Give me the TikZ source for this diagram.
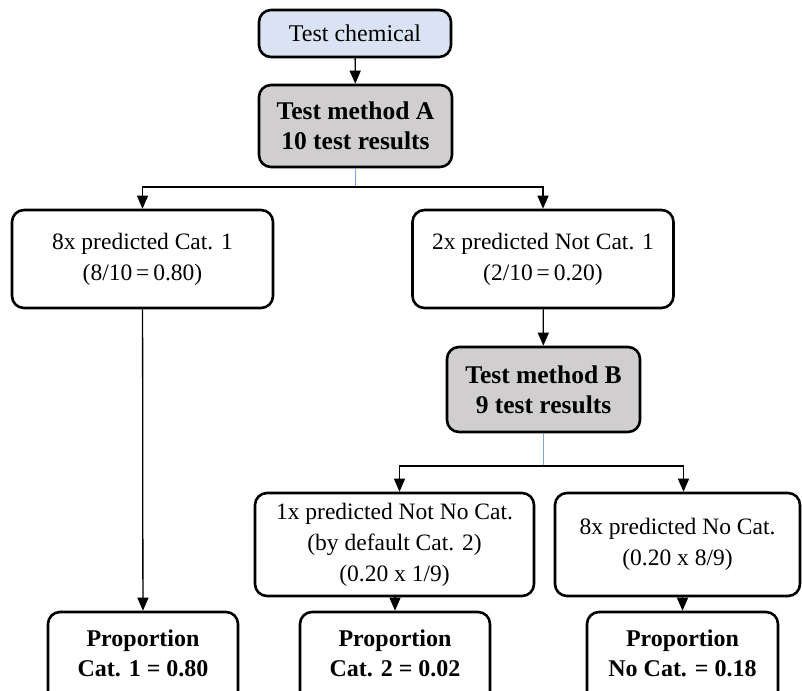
\documentclass[tikz,border=0pt]{standalone}
\usepackage{fontspec}
\setmainfont{Liberation Serif}
\usetikzlibrary{arrows.meta}
\definecolor{boxblue}{HTML}{DAE3F3}
\definecolor{boxgrey}{HTML}{D0CECE}
\definecolor{linkblue}{HTML}{7FA3DA}
\begin{document}
\begin{tikzpicture}[x=1pt,y=-1pt,
  box/.style={draw=black, line width=2.6pt, rounded corners=12pt, align=center,
    inner sep=0pt, font=\fontsize{23.5}{31}\selectfont},
  boldbox/.style={box, font=\fontsize{25.5}{30}\selectfont\bfseries},
  txt/.style={align=center, inner sep=0pt, font=\fontsize{24}{30}\selectfont\bfseries},
  arr/.style={draw=black, line width=1.3pt, -{Triangle[length=13pt,width=11pt]}},
  bline/.style={draw=linkblue, line width=1.3pt}]
\useasboundingbox (0,0) rectangle (802,690);
\fill[white] (0,0) rectangle (802,690);

\node[box, fill=boxblue, minimum width=192pt, minimum height=47pt, font=\fontsize{24}{30}\selectfont] (tc) at (355,33.5) {Test chemical};
\node[boldbox, fill=boxgrey, minimum width=193pt, minimum height=82pt] (ma) at (355.5,126) {Test method A\\10 test results};
\node[box, minimum width=261pt, minimum height=98pt] (c1) at (142.5,259) {8x predicted Cat. 1\\(8/10\,=\,0.80)};
\node[box, minimum width=261pt, minimum height=98pt] (nc1) at (543,259) {2x predicted Not Cat. 1\\(2/10\,=\,0.20)};
\node[boldbox, fill=boxgrey, minimum width=193pt, minimum height=85pt] (mb) at (543.5,389.5) {Test method B\\9 test results};
\node[box, minimum width=279pt, minimum height=103pt] (nnc) at (394.5,544.5) {1x predicted Not No Cat.\\(by default Cat. 2)\\(0.20 x 1/9)};
\node[box, minimum width=245pt, minimum height=103pt] (noc) at (677.5,544.5) {8x predicted No Cat.\\(0.20 x 8/9)};

\node[box, minimum width=190pt, minimum height=100pt] (p1) at (143,662) {};
\node[box, minimum width=190pt, minimum height=100pt] (p2) at (395,662) {};
\node[box, minimum width=191pt, minimum height=100pt] (p3) at (682.5,662) {};
\node[txt] (p1t) at (143,653) {Proportion\\Cat. 1 = 0.80};
\node[txt] (p2t) at (395,653) {Proportion\\Cat. 2 = 0.02};
\node[txt] (p3t) at (682.5,653) {Proportion\\No Cat. = 0.18};

\coordinate (ja) at (355.5,187);
\coordinate (jb) at (543.5,466);

\draw[arr] (tc) -- (ma);
\draw[bline] (ma) -- (ja);
\draw[arr] (ja) -| (c1.north);
\draw[arr] (ja) -| (nc1.north);
\draw[arr] (nc1) -- (mb);
\draw[bline] (mb) -- (jb);
\draw[arr] (jb) -| ([xshift=5pt]nnc.north);
\draw[arr] (jb) -| ([xshift=6pt]noc.north);
\draw[arr] (c1) -- (p1);
\draw[arr] (nnc.south -| p2.north) -- (p2.north);
\draw[arr] (noc.south -| p3.north) -- (p3.north);
\end{tikzpicture}
\end{document}
